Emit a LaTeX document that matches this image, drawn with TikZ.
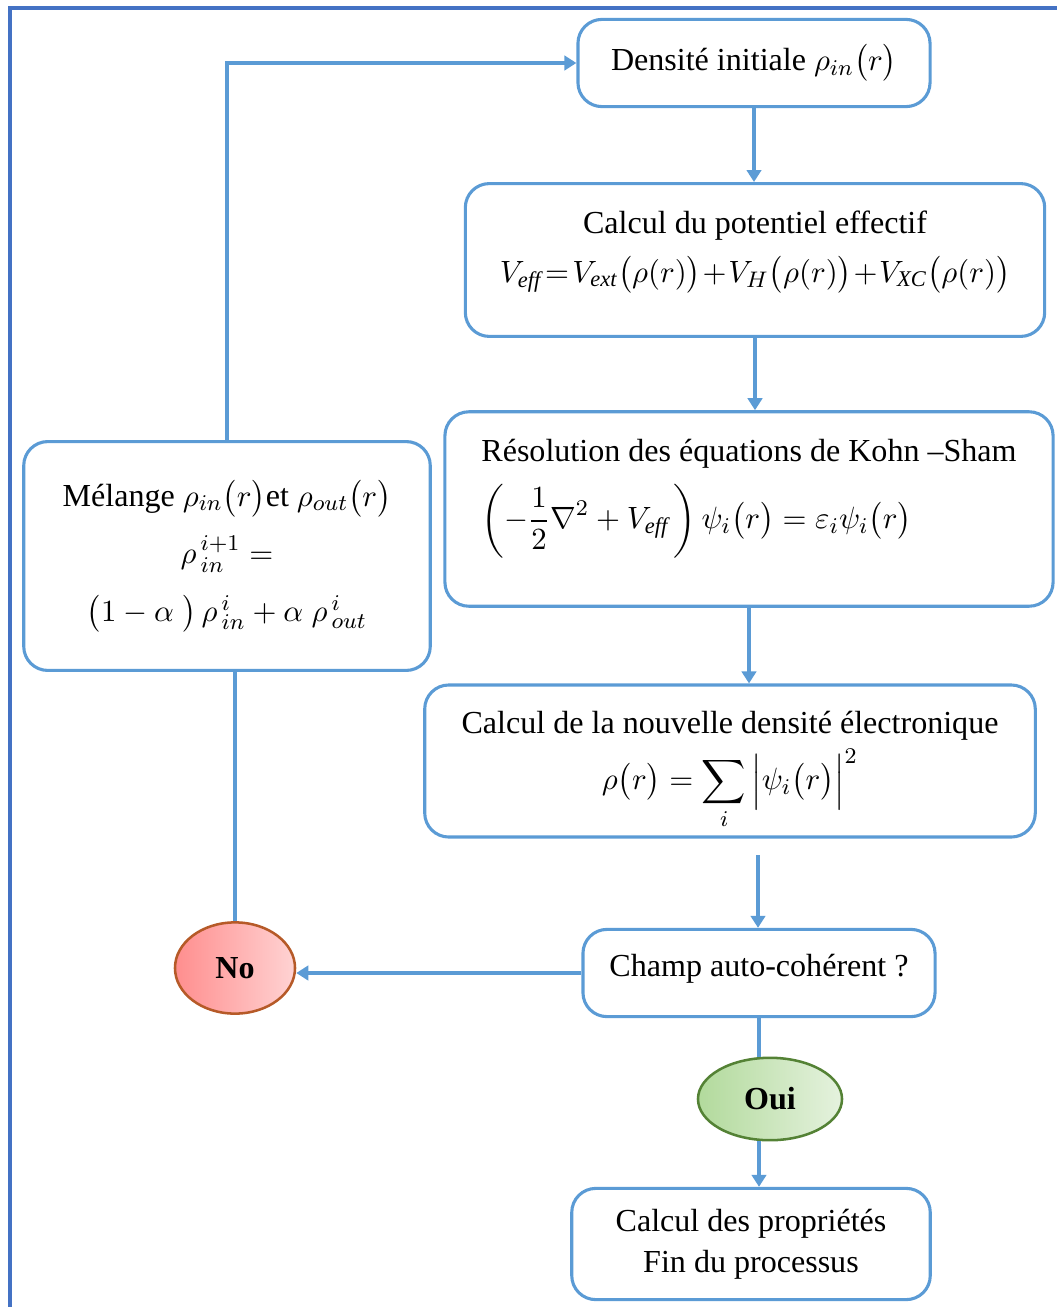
\documentclass[tikz,border=0pt]{standalone}
\usepackage{amsmath}
\usepackage{fontspec}
\setmainfont{Liberation Serif}
\usepackage{tikz}
\usetikzlibrary{positioning, arrows.meta, shapes.geometric}

\definecolor{lineblue}{HTML}{5B9BD5}
\definecolor{frameblue}{HTML}{4472C4}
\definecolor{noleft}{HTML}{FF8E8E}
\definecolor{noright}{HTML}{FFD3D3}
\definecolor{noedge}{HTML}{B65A28}
\definecolor{ouileft}{HTML}{B2DA9C}
\definecolor{ouiright}{HTML}{E5F2DE}
\definecolor{ouiedge}{HTML}{548235}

% text block moved up or down inside its box
\newcommand{\lifted}[3]{\raisebox{#1}[0pt][0pt]{\begin{tabular}{@{}#2@{}}#3\end{tabular}}}

\begin{document}
\begin{tikzpicture}[x=0.0125cm, y=-0.0125cm,
  box/.style={draw=lineblue, line width=1.1pt, rounded corners=0.3cm, align=center,
    font=\fontsize{11.4}{14.5}\selectfont},
  link/.style={draw=lineblue, line width=1.1pt},
  flow/.style={link, -{Triangle[length=0.15cm, width=0.18cm]}},
  choice/.style={ellipse, line width=0.9pt, inner sep=0pt,
    font=\fontsize{11.4}{14}\selectfont\bfseries}]
\useasboundingbox (0,0) rectangle (1057,1307);

% --- Frame ---
\draw[frameblue, line width=1.1pt] (10,1307) -- (10,8) -- (1057,8);

% --- Main column ---
\node[box, minimum width=4.4cm, minimum height=1.09cm] (dens) at (754,63)
  {Densité initiale $\rho_{in}\big(r\big)$};
\node[box, minimum width=7.24cm, minimum height=1.91cm] (pot) at (755,260)
  {\lifted{1pt}{c}{Calcul du potentiel effectif\\[3pt]
   $\thickmuskip=2mu\medmuskip=1mu
    V_{\mathit{eff}}=V_{\mathit{ext}}\big(\rho(r)\big)+V_{H}\big(\rho(r)\big)+V_{\mathit{XC}}\big(\rho(r)\big)$}};
\node[box, minimum width=7.6cm, minimum height=2.43cm] (ks) at (749,509)
  {\lifted{2pt}{l}{Résolution des équations de Kohn –Sham\\[3.5pt]
   $\displaystyle\left(-\frac{1}{2}\nabla^{2}+V_{\mathit{eff}}\,\right)\psi_{i}\big(r\big)=\varepsilon_{i}\psi_{i}\big(r\big)$}};
\node[box, minimum width=7.63cm, minimum height=1.9cm] (newrho) at (730,761)
  {\lifted{-5pt}{c}{Calcul de la nouvelle densité électronique\\[1pt]
   $\displaystyle\rho\big(r\big)=\sum_{i}\Big|\psi_{i}\big(r\big)\Big|^{2}$}};
\node[box, minimum width=4.4cm, minimum height=1.09cm] (scf) at (759,973)
  {\lifted{-1pt}{c}{Champ auto-cohérent ?}};
\node[box, minimum width=4.48cm, minimum height=1.39cm] (fin) at (751,1244)
  {Calcul des propriétés\\Fin du processus};

% --- Mixing loop ---
\node[box, minimum width=5.08cm, minimum height=2.86cm] (mix) at (227,556)
  {Mélange $\rho_{in}\big(r\big)$et $\rho_{out}\big(r\big)$\\[6pt]
   $\rho_{\,in}^{\,i+1}=$\\[6pt]
   $\big(1-\alpha\;\big)\,\rho_{\,in}^{\,i}+\alpha\;\rho_{\,out}^{\,i}$};

% --- Decisions ---
\node[choice, draw=noedge, left color=noleft, right color=noright,
  minimum width=1.5cm, minimum height=1.14cm] (no) at (235,968) {No};
\node[choice, draw=ouiedge, left color=ouileft, right color=ouiright,
  minimum width=1.8cm, minimum height=1.03cm] (oui) at (770,1099) {Oui};

% --- Connectors ---
\coordinate (gap) at (758,855);
\draw[flow] (dens.south) -- (dens.south |- pot.north);
\draw[flow] (pot.south) -- (pot.south |- ks.north);
\draw[flow] (ks.south) -- (ks.south |- newrho.north);
\draw[flow] (gap) -- (gap |- scf.north);
\draw[flow] (scf.west) -- (scf.west -| no.east);
\draw[link] (no.north) -- (no.north |- mix.south);
\draw[flow] (mix.north) |- (dens.west);
\draw[link] (scf.south) -- (scf.south |- oui.north);
\draw[flow] (scf.south |- oui.south) -- (scf.south |- fin.north);
\end{tikzpicture}
\end{document}
